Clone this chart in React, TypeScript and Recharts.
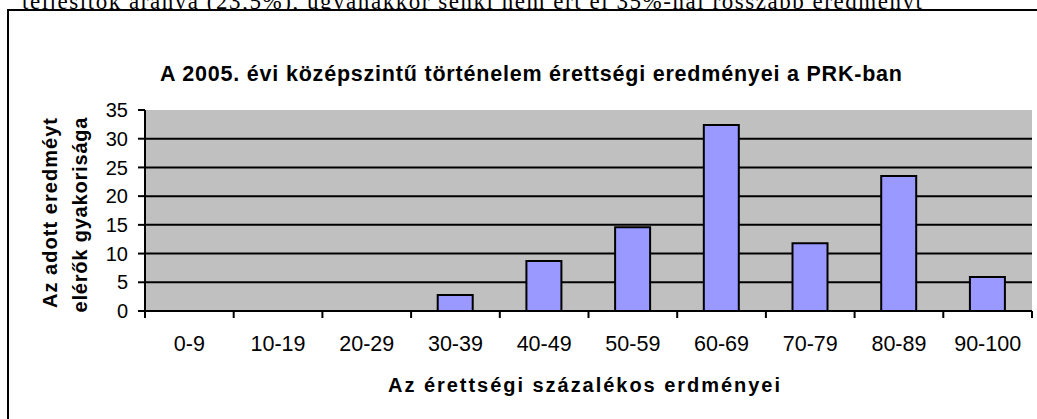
import React from 'react';
import { BarChart, Bar, XAxis, YAxis, CartesianGrid } from 'recharts';

const categories = ['0-9', '10-19', '20-29', '30-39', '40-49', '50-59', '60-69', '70-79', '80-89', '90-100'];
const frequencies = [0, 0, 0, 2.8, 8.7, 14.6, 32.4, 11.8, 23.5, 5.9];
const yTicks = [0, 5, 10, 15, 20, 25, 30, 35];
const gridValues = [5, 10, 15, 20, 25, 30];

const chartTitle = 'A 2005. évi középszintű történelem érettségi eredményei a PRK-ban';
const xTitle = 'Az érettségi százalékos erdményei';
const yTitleLine1 = 'Az adott eredméyt';
const yTitleLine2 = 'elérők gyakorisága';
const aboveText = 'teljesítők aránya (23,5%), ugyanakkor senki nem ért el 35%-nál rosszabb eredményt';

const data = categories.map((c, i) => ({ cat: c, freq: frequencies[i] }));

const SANS = '"Liberation Sans", Arial, sans-serif';
const SERIF = '"Liberation Serif", "Times New Roman", serif';

const XTick = (props: any) => {
  const { x, y, payload, index, visibleTicksCount, width } = props;
  const half =
    payload && typeof payload.offset === 'number' && payload.offset > 0
      ? payload.offset
      : width / visibleTicksCount / 2;
  const left = x - half;
  const right = x + half;
  return (
    <g>
      <line x1={left} y1={y} x2={left} y2={y + 7} stroke="#000" strokeWidth={2} />
      {index === visibleTicksCount - 1 && (
        <line x1={right} y1={y} x2={right} y2={y + 7} stroke="#000" strokeWidth={2} />
      )}
      <text x={x} y={y + 40} textAnchor="middle" fontFamily={SANS} fontSize={21.5} fill="#000">
        {payload.value}
      </text>
    </g>
  );
};

export default function App() {
  return (
    <div
      style={{
        position: 'absolute',
        left: 0,
        top: 0,
        width: 1037,
        height: 419,
        overflow: 'hidden',
        background: '#fff',
      }}
    >
      <svg width={1037} height={419} style={{ position: 'absolute', left: 0, top: 0 }}>
        <text x={22} y={9} fontFamily={SERIF} fontSize={23} fill="#000" textLength={900} lengthAdjust="spacing">
          {aboveText}
        </text>
        <rect x={8} y={9} width={1100} height={500} fill="#fff" />
        <path d="M 8 440 L 8 10 L 1060 10" fill="none" stroke="#000" strokeWidth={2} />
        <text
          x={531}
          y={81}
          textAnchor="middle"
          fontFamily={SANS}
          fontWeight="bold"
          fontSize={21.5}
          fill="#000"
          textLength={742}
          lengthAdjust="spacing"
        >
          {chartTitle}
        </text>
        <text
          x={584}
          y={392}
          textAnchor="middle"
          fontFamily={SANS}
          fontWeight="bold"
          fontSize={20}
          fill="#000"
          textLength={392}
          lengthAdjust="spacing"
        >
          {xTitle}
        </text>
        <text
          x={57}
          y={213}
          transform="rotate(-90 57 213)"
          textAnchor="middle"
          fontFamily={SANS}
          fontWeight="bold"
          fontSize={20}
          fill="#000"
          textLength={190}
          lengthAdjust="spacing"
        >
          {yTitleLine1}
        </text>
        <text
          x={87}
          y={215}
          transform="rotate(-90 87 215)"
          textAnchor="middle"
          fontFamily={SANS}
          fontWeight="bold"
          fontSize={20}
          fill="#000"
          textLength={195}
          lengthAdjust="spacing"
        >
          {yTitleLine2}
        </text>
      </svg>
      <div style={{ position: 'absolute', left: 0, top: 0 }}>
        <BarChart
          width={1037}
          height={419}
          data={data}
          margin={{ top: 110, right: 5, left: 85, bottom: 68 }}
          barCategoryGap="30%"
        >
          <CartesianGrid
            vertical={false}
            horizontalValues={gridValues}
            stroke="#000"
            strokeWidth={2}
            fill="#C0C0C0"
            fillOpacity={1}
          />
          <Bar dataKey="freq" fill="#9999FF" stroke="#000" strokeWidth={2} isAnimationActive={false} />
          <XAxis
            dataKey="cat"
            height={40}
            interval={0}
            tickSize={0}
            tickMargin={0}
            tickLine={false}
            axisLine={{ stroke: '#000', strokeWidth: 2 }}
            tick={<XTick />}
          />
          <XAxis
            xAxisId="top"
            dataKey="cat"
            orientation="top"
            height={0}
            tick={false}
            tickLine={false}
            axisLine={{ stroke: '#808080', strokeWidth: 2 }}
          />
          <YAxis
            width={60}
            domain={[0, 35]}
            ticks={yTicks}
            interval={0}
            tickSize={7}
            tickMargin={10}
            axisLine={{ stroke: '#000', strokeWidth: 2 }}
            tickLine={{ stroke: '#000', strokeWidth: 2 }}
            tick={{ fill: '#000', fontSize: 20, fontFamily: SANS }}
          />
          <YAxis
            yAxisId="right"
            orientation="right"
            width={0}
            domain={[0, 35]}
            tick={false}
            tickLine={false}
            axisLine={{ stroke: '#808080', strokeWidth: 2 }}
          />
        </BarChart>
      </div>
    </div>
  );
}
